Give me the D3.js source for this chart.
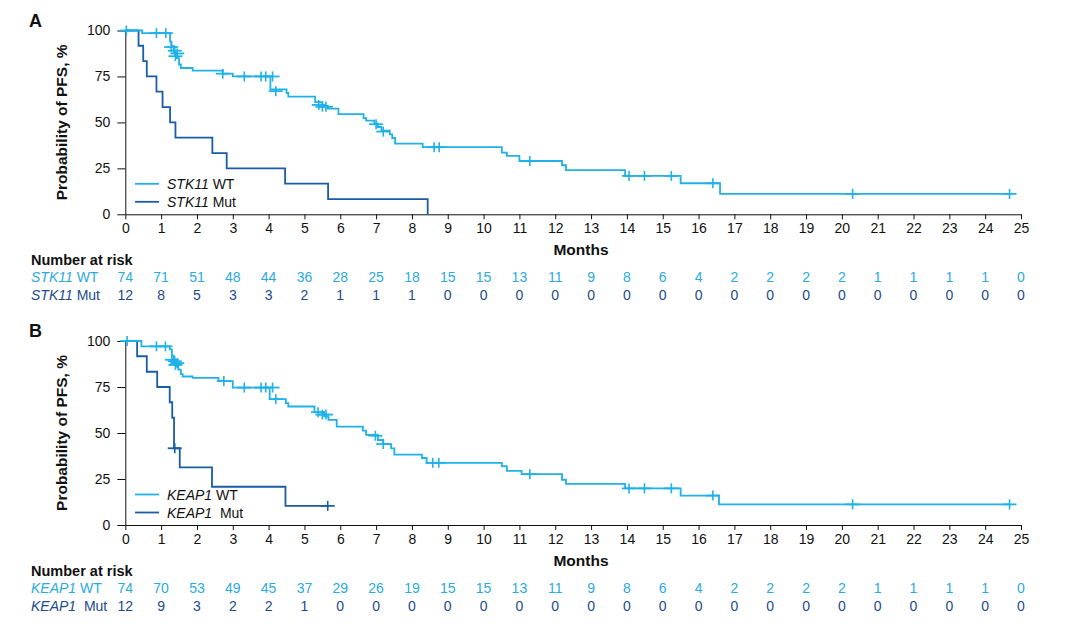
<!DOCTYPE html>
<html>
<head>
<meta charset="utf-8">
<script src="https://cdn.jsdelivr.net/npm/d3@7"></script>
<style>
  body { margin: 0; background: #fff; }
  svg { display: block; font-family: "Liberation Sans", Arial, Helvetica, sans-serif; }
</style>
</head>
<body>
<svg id="chart" width="1078" height="630"></svg>
<script>
// ---------- DATA ----------
const monthTicks = d3.range(0, 26);
const yTicks = [0, 25, 50, 75, 100];

// Panel A: STK11
const stkWTSteps = [[0.47,98.6],[1.25,94],[1.29,91.5],[1.35,88],[1.42,85],[1.5,81.5],[1.55,79.6],[1.88,78.2],[2.72,76.5],[3.0,75],[4.05,68],[4.5,66],[4.55,64],[5.3,61],[5.5,59],[5.65,57.5],[5.95,54.5],[6.65,52.3],[6.72,51],[6.95,49.5],[7.05,47.5],[7.15,45.5],[7.38,43.5],[7.45,41.5],[7.53,38.5],[8.3,36.5],[10.51,33.6],[10.65,31.8],[11.0,29],[12.19,26.7],[12.3,24],[13.95,20.9],[15.5,16.9],[16.6,11.1]];
const stkWTEnd = 24.68;
const stkWTCensor = [[0.03,100],[0.87,98.6],[1.13,98.6],[1.28,91],[1.38,89],[1.45,87.5],[1.4,86],[2.72,76.5],[3.32,75],[3.79,75],[3.92,75],[4.11,75],[4.2,67],[5.4,59.5],[5.5,58.5],[5.6,58.5],[7.0,49],[7.2,45],[8.62,36.5],[8.76,36.5],[11.29,29],[14.06,20.9],[14.49,20.9],[15.24,20.9],[16.4,16.9],[20.3,11.1],[24.68,11.1]];
const stkMutSteps = [[0.37,91.7],[0.5,83.3],[0.6,75],[0.87,66.7],[1.04,58.3],[1.25,50],[1.4,41.7],[2.43,33.3],[2.83,25],[4.46,16.7],[5.66,8.3],[8.44,0]];
const stkMutEnd = 8.44;
const stkMutCensor = [];
const stkWTRisk = [74,71,51,48,44,36,28,25,18,15,15,13,11,9,8,6,4,2,2,2,2,1,1,1,1,0];
const stkMutRisk = [12,8,5,3,3,2,1,1,1,0,0,0,0,0,0,0,0,0,0,0,0,0,0,0,0,0];

// Panel B: KEAP1
const keapWTSteps = [[0.45,97.1],[1.24,95.5],[1.3,92],[1.35,89],[1.42,86.5],[1.48,84.4],[1.55,82],[1.6,80.7],[1.88,80],[2.6,78.2],[3.0,74.7],[4.03,68.4],[4.48,66.2],[4.55,64.4],[5.28,61.3],[5.55,59],[5.67,57.1],[5.9,53.5],[6.63,51.3],[6.72,49],[7.05,46.2],[7.2,44],[7.42,41.6],[7.51,38.2],[8.28,36.4],[8.41,33.8],[10.51,32],[10.65,29.4],[11.06,27.6],[12.19,24.6],[12.3,22.4],[13.95,19.9],[15.5,16],[16.57,11.2]];
const keapWTEnd = 24.68;
const keapWTCensor = [[0.05,100],[0.87,97.1],[1.12,97.1],[1.3,89.8],[1.38,89],[1.45,88],[1.4,87],[2.75,78.2],[3.32,74.7],[3.79,74.7],[3.92,74.7],[4.11,74.7],[4.2,68.4],[5.38,61.3],[5.5,60],[5.6,60],[6.98,48.5],[7.2,44],[8.58,33.8],[8.75,33.8],[11.29,27.6],[14.06,19.9],[14.49,19.9],[15.24,19.9],[16.4,16],[20.3,11.2],[24.68,11.2]];
const keapMutSteps = [[0.33,91.7],[0.6,83.3],[0.89,75],[1.24,66.7],[1.31,58.3],[1.36,41.7],[1.52,31.3],[2.42,20.8],[4.47,10.4]];
const keapMutEnd = 5.65;
const keapMutCensor = [[1.38,41.7],[5.65,10.4]];
const keapWTRisk = [74,70,53,49,45,37,29,26,19,15,15,13,11,9,8,6,4,2,2,2,2,1,1,1,1,0];
const keapMutRisk = [12,9,3,2,2,1,0,0,0,0,0,0,0,0,0,0,0,0,0,0,0,0,0,0,0,0];

// ---------- STYLE ----------
const WT_COLOR = "#1fb1e8";
const MUT_COLOR = "#1a5ca6";
const WT_TEXT = "#2aaae2";
const MUT_TEXT = "#1c4a8c";
const FS = 14;

const svg = d3.select("#chart");
const x = d3.scaleLinear().domain([0, 25]).range([125.3, 1021]);

function stepPoints(steps, end) {
  const pts = [[0, 100]];
  let cur = 100;
  steps.forEach(([t, s]) => { pts.push([t, cur]); pts.push([t, s]); cur = s; });
  pts.push([end, cur]);
  return pts;
}

function drawPanel(cfg) {
  const g = svg.append("g");
  const y = d3.scaleLinear().domain([0, 100]).range([cfg.y0, cfg.y100]);

  // panel letter
  g.append("text").attr("x", 29).attr("y", cfg.y100 - 4)
    .attr("font-size", 18).attr("font-weight", "bold").attr("fill", "#111").text(cfg.letter);

  // y axis
  const ya = g.append("g").attr("transform", `translate(${x(0)},0)`)
    .call(d3.axisLeft(y).tickValues(yTicks).tickSize(8).tickPadding(7).tickSizeOuter(0));
  ya.selectAll("text").attr("font-size", FS).attr("fill", "#111").attr("font-family", "Liberation Sans, Arial, sans-serif");
  ya.selectAll("line,path").attr("stroke", "#111");

  // x axis
  const xa = g.append("g").attr("transform", `translate(0,${cfg.y0})`)
    .call(d3.axisBottom(x).tickValues(monthTicks).tickSize(5).tickPadding(4).tickSizeOuter(0));
  xa.selectAll("text").attr("font-size", FS).attr("fill", "#111").attr("font-family", "Liberation Sans, Arial, sans-serif");
  xa.selectAll("line,path").attr("stroke", "#111");

  // y label
  g.append("text")
    .attr("transform", `translate(67,${(cfg.y0 + cfg.y100) / 2}) rotate(-90)`)
    .attr("text-anchor", "middle").attr("font-size", 15.5).attr("font-weight", "bold").attr("fill", "#111")
    .text("Probability of PFS, %");

  // Months label
  g.append("text").attr("x", 581).attr("y", cfg.y0 + 41)
    .attr("text-anchor", "middle").attr("font-size", 15.5).attr("font-weight", "bold").attr("fill", "#111")
    .text("Months");

  const line = d3.line().x(d => x(d[0])).y(d => y(d[1]));

  function curve(steps, end, censor, color) {
    g.append("path").datum(stepPoints(steps, end))
      .attr("d", line).attr("fill", "none").attr("stroke", color).attr("stroke-width", 1.8);
    censor.forEach(([t, s]) => {
      g.append("line").attr("x1", x(t) - 7).attr("x2", x(t) + 7).attr("y1", y(s)).attr("y2", y(s))
        .attr("stroke", color).attr("stroke-width", 1.8);
      g.append("line").attr("x1", x(t)).attr("x2", x(t)).attr("y1", y(s) - 5).attr("y2", y(s) + 5)
        .attr("stroke", color).attr("stroke-width", 1.6);
    });
  }
  curve(cfg.mutSteps, cfg.mutEnd, cfg.mutCensor, MUT_COLOR);
  curve(cfg.wtSteps, cfg.wtEnd, cfg.wtCensor, WT_COLOR);

  // legend
  const legItems = [[cfg.gene, cfg.wtLab, WT_COLOR, cfg.y0 - 30.5], [cfg.gene, cfg.mutLab, MUT_COLOR, cfg.y0 - 12.5]];
  legItems.forEach(([gene, lab, col, ly]) => {
    g.append("line").attr("x1", 135).attr("x2", 159).attr("y1", ly).attr("y2", ly)
      .attr("stroke", col).attr("stroke-width", 1.8);
    const t = g.append("text").attr("x", 167).attr("y", ly + 5).attr("font-size", FS).attr("fill", "#111");
    t.append("tspan").attr("font-style", "italic").text(gene);
    t.append("tspan").attr("xml:space", "preserve").text(lab);
  });

  // number at risk
  g.append("text").attr("x", 31).attr("y", cfg.y0 + 51)
    .attr("font-size", 14.5).attr("font-weight", "bold").attr("fill", "#111").text("Number at risk");
  const rows = [[cfg.wtRisk, WT_TEXT, cfg.wtLab, cfg.y0 + 68], [cfg.mutRisk, MUT_TEXT, cfg.mutLab, cfg.y0 + 86]];
  rows.forEach(([vals, col, lab, ry]) => {
    const t = g.append("text").attr("x", 31).attr("y", ry).attr("font-size", FS).attr("fill", col);
    t.append("tspan").attr("font-style", "italic").text(cfg.gene);
    t.append("tspan").attr("xml:space", "preserve").text(lab);
    g.selectAll(null).data(vals).enter().append("text")
      .attr("x", (d, i) => x(monthTicks[i])).attr("y", ry)
      .attr("text-anchor", "middle").attr("font-size", FS).attr("fill", col)
      .text(d => d);
  });
}

drawPanel({
  letter: "A", gene: "STK11", wtLab: " WT", mutLab: " Mut", y0: 214.3, y100: 30.5,
  wtSteps: stkWTSteps, wtEnd: stkWTEnd, wtCensor: stkWTCensor,
  mutSteps: stkMutSteps, mutEnd: stkMutEnd, mutCensor: stkMutCensor,
  wtRisk: stkWTRisk, mutRisk: stkMutRisk
});
drawPanel({
  letter: "B", gene: "KEAP1", wtLab: " WT", mutLab: "  Mut", y0: 525, y100: 341,
  wtSteps: keapWTSteps, wtEnd: keapWTEnd, wtCensor: keapWTCensor,
  mutSteps: keapMutSteps, mutEnd: keapMutEnd, mutCensor: keapMutCensor,
  wtRisk: keapWTRisk, mutRisk: keapMutRisk
});
</script>
</body>
</html>
